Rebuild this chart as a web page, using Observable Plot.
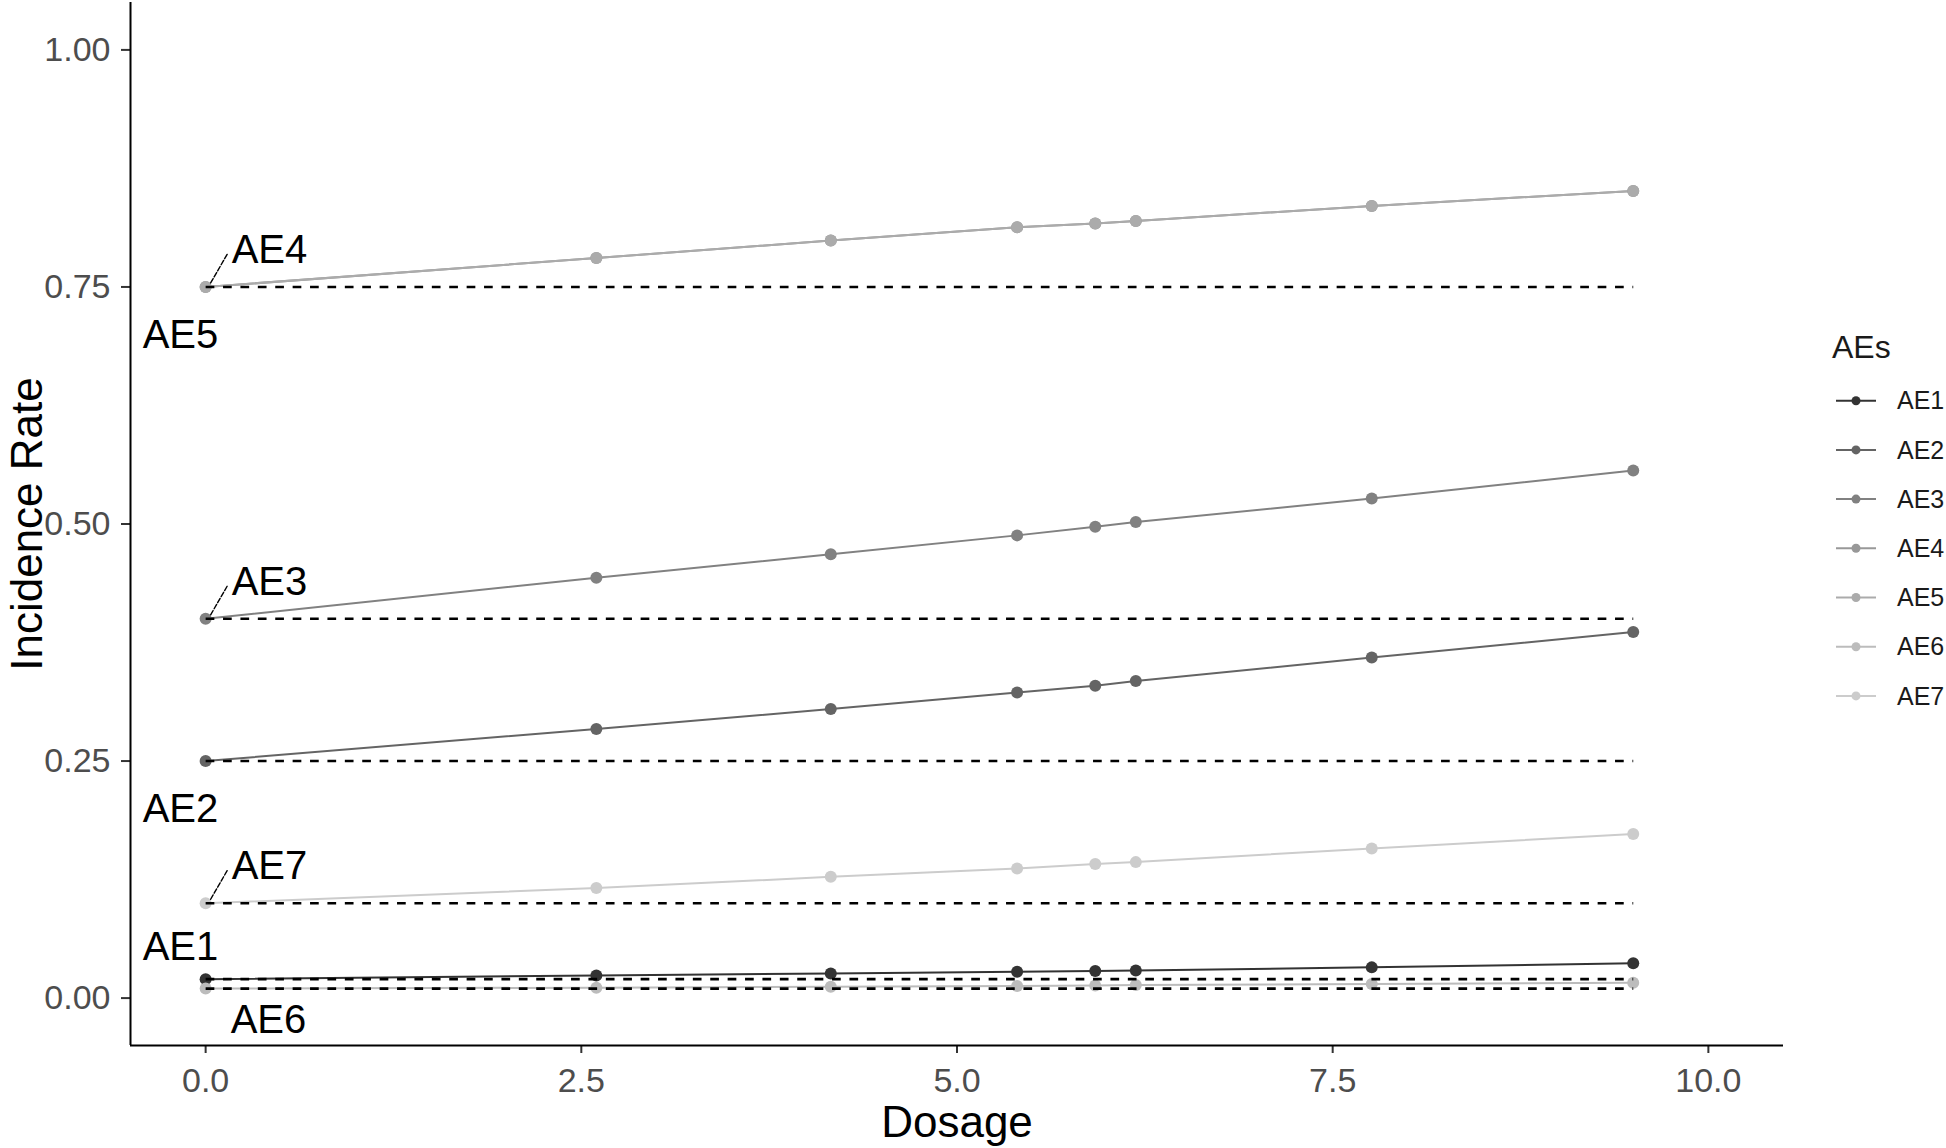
<!DOCTYPE html>
<html><head><meta charset="utf-8">
<script src="https://cdn.jsdelivr.net/npm/d3@7"></script>
<script src="https://cdn.jsdelivr.net/npm/@observablehq/plot@0.6"></script>
<style>
html,body{margin:0;padding:0;background:#fff;}
#wrap{position:relative;width:1946px;height:1148px;overflow:hidden;}
#legend{position:absolute;left:0;top:0;pointer-events:none;}
</style>
</head><body><div id="wrap"></div>
<script>
// ---- data ----
const dosage = [0, 2.6, 4.16, 5.4, 5.92, 6.19, 7.76, 9.5];
const aeNames = ["AE1", "AE2", "AE3", "AE4", "AE5", "AE6", "AE7"];
const AE1 = [0.020, 0.0238, 0.0260, 0.0278, 0.0285, 0.0290, 0.0324, 0.0367];
const AE2 = [0.250, 0.2838, 0.3048, 0.3224, 0.3295, 0.3344, 0.3591, 0.3862];
const AE3 = [0.400, 0.4433, 0.4680, 0.4880, 0.4972, 0.5020, 0.5268, 0.5565];
const AE4 = [0.750, 0.7805, 0.7990, 0.8130, 0.8170, 0.8196, 0.8354, 0.8513];
const AE5 = [0.750, 0.7805, 0.7990, 0.8130, 0.8170, 0.8196, 0.8354, 0.8513];
const AE6 = [0.010, 0.0110, 0.0120, 0.0128, 0.0134, 0.0137, 0.0148, 0.0162];
const AE7 = [0.100, 0.1160, 0.1279, 0.1367, 0.1413, 0.1434, 0.1578, 0.1730];
const aeColors = ["#333333", "#646464", "#818181", "#989898", "#ababab", "#bcbcbc", "#cccccc"];
const xTicks = [0, 2.5, 5, 7.5, 10];
const yTicks = [0, 0.25, 0.5, 0.75, 1];
const xDomain = [-0.5, 10.5];
const yDomain = [-0.05, 1.05];
const labelPlacement = ["nw", "sw", "ne", "ne", "sw", "se", "ne"];

// ---- layout / style ----
const FONT = "Liberation Sans, Arial, Helvetica, sans-serif";
const placementStyle = {
  ne: {dx: 26, dy: -24},
  sw: {dx: -63, dy: 61},
  nw: {dx: -63, dy: -19},
  se: {dx: 25, dy: 44}
};

const seriesValues = [AE1, AE2, AE3, AE4, AE5, AE6, AE7];
const rows = aeNames.flatMap((ae, i) => dosage.map((d, j) => ({ae, dose: d, rate: seriesValues[i][j]})));
const baselineMap = new Map();
aeNames.forEach((ae, i) => {
  const y = seriesValues[i][0];
  if (!baselineMap.has(y)) baselineMap.set(y, {x1: dosage[0], x2: dosage[dosage.length - 1], y});
});
const baselines = [...baselineMap.values()];
const starts = aeNames.map((ae, i) => ({ae, dose: dosage[0], rate: seriesValues[i][0], place: labelPlacement[i]}));

const labelMarks = [];
for (const p of Object.keys(placementStyle)) {
  const sub = starts.filter(d => d.place === p);
  if (!sub.length) continue;
  const st = placementStyle[p];
  labelMarks.push(Plot.text(sub, {
    x: "dose", y: "rate", text: "ae", dx: st.dx, dy: st.dy,
    textAnchor: "start", lineAnchor: "bottom", fontSize: 40, fill: "black", fontFamily: FONT
  }));
}
const leaderShape = {draw(context, l) { context.moveTo(0, 0); context.lineTo(0, -l); }};
const leaders = Plot.vector(starts.filter(d => d.place === "ne"), {
  x: "dose", y: "rate", length: 33, rotate: 30, anchor: "start", dx: 5, dy: -4,
  shape: leaderShape, stroke: "black", strokeWidth: 1.4, strokeDasharray: "5,2"
});

const chart = Plot.plot({
  width: 1946, height: 1148,
  marginLeft: 130, marginRight: 163, marginTop: 2, marginBottom: 103,
  style: {fontFamily: FONT, background: "white"},
  x: {domain: xDomain, label: null},
  y: {domain: yDomain, label: null},
  color: {domain: aeNames, range: aeColors},
  marks: [
    Plot.axisX({ticks: xTicks, tickFormat: d3.format(".1f"), tickSize: 0, tickPadding: 22, fontSize: 34, color: "#4d4d4d", label: null}),
    Plot.axisX({ticks: xTicks, tickFormat: () => "", tickSize: 8, stroke: "#333333", strokeWidth: 2, label: null}),
    Plot.axisY({ticks: yTicks, tickFormat: d3.format(".2f"), tickSize: 0, tickPadding: 20, fontSize: 34, color: "#4d4d4d", label: null}),
    Plot.axisY({ticks: yTicks, tickFormat: () => "", tickSize: 9, stroke: "#333333", strokeWidth: 2, label: null}),
    Plot.line(rows, {x: "dose", y: "rate", z: "ae", stroke: "ae", strokeWidth: 2}),
    Plot.dot(rows, {x: "dose", y: "rate", fill: "ae", r: 6}),
    Plot.link(baselines, {x1: "x1", x2: "x2", y1: "y", y2: "y", stroke: "black", strokeWidth: 2.6, strokeDasharray: "8.7,8.7"}),
    leaders,
    ...labelMarks,
    Plot.ruleX([xDomain[0]], {stroke: "black", strokeWidth: 2}),
    Plot.ruleY([yDomain[0]], {stroke: "black", strokeWidth: 2}),
    Plot.text(["Incidence Rate"], {frameAnchor: "left", dx: -89, rotate: -90, lineAnchor: "bottom", textAnchor: "middle", fontSize: 44, fill: "black", fontFamily: FONT}),
    Plot.text(["Dosage"], {frameAnchor: "bottom", dy: 91, lineAnchor: "bottom", textAnchor: "middle", fontSize: 44, fill: "black", fontFamily: FONT})
  ]
});
const wrap = document.getElementById("wrap");
wrap.appendChild(chart);

// ---- legend ----
const leg = d3.select(wrap).append("svg").attr("id", "legend").attr("width", 1946).attr("height", 1148)
  .style("font-family", FONT);
leg.append("text").attr("x", 1832).attr("y", 358).attr("font-size", 32).attr("fill", "#1a1a1a").text("AEs");
aeNames.forEach((ae, i) => {
  const y = 400.7 + i * 49.2;
  const g = leg.append("g");
  g.append("line").attr("x1", 1836).attr("x2", 1876).attr("y1", y).attr("y2", y).attr("stroke", aeColors[i]).attr("stroke-width", 2);
  g.append("circle").attr("cx", 1856).attr("cy", y).attr("r", 4.5).attr("fill", aeColors[i]);
  g.append("text").attr("x", 1897).attr("y", y).attr("dy", "0.35em").attr("font-size", 25).attr("fill", "#1a1a1a").text(ae);
});
</script>
</body></html>
